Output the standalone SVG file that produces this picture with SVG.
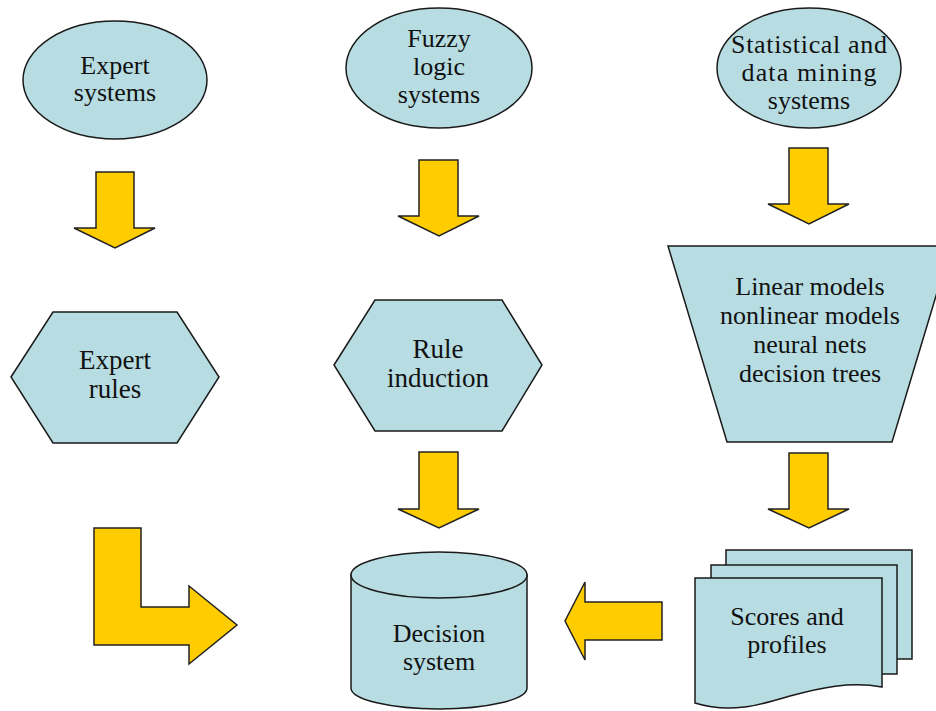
<svg xmlns="http://www.w3.org/2000/svg" width="936" height="711" viewBox="0 0 936 711">
<style>
.node{fill:#b7dde2;stroke:#1a1a1a;stroke-width:1.5}
.arr{fill:#ffcc00;stroke:#222;stroke-width:1.5;stroke-linejoin:miter}
text{font-family:"Liberation Serif","Times New Roman",serif;font-size:26px;fill:#111;text-anchor:middle}
.big{font-size:27px}
</style>
<rect width="936" height="711" fill="#fff"/>
<g id="expert-systems">
<ellipse class="node" cx="115" cy="80" rx="92" ry="59"/>
<text x="115" y="74">Expert</text>
<text x="115" y="101">systems</text>
</g>
<g id="fuzzy-logic">
<ellipse class="node" cx="439" cy="68" rx="93" ry="60"/>
<text x="439" y="47">Fuzzy</text>
<text x="439" y="75">logic</text>
<text x="439" y="103">systems</text>
</g>
<g id="statistical">
<ellipse class="node" cx="809" cy="68" rx="92" ry="60"/>
<text x="809" y="53" textLength="156" lengthAdjust="spacing">Statistical and</text>
<text x="809" y="81" textLength="135" lengthAdjust="spacing">data mining</text>
<text x="809" y="109">systems</text>
</g>
<g id="expert-rules">
<polygon class="node" points="11,377 53,312 177,312 219,377 177,443 53,443"/>
<text class="big" x="115" y="369">Expert</text>
<text class="big" x="115" y="398">rules</text>
</g>
<g id="rule-induction">
<polygon class="node" points="334,365 375,300 502,300 542,365 502,431 375,431"/>
<text class="big" x="438" y="358">Rule</text>
<text class="big" x="438" y="387">induction</text>
</g>
<g id="models">
<polygon class="node" points="668,246 951,246 892,442 727,442"/>
<text x="810" y="295">Linear models</text>
<text x="810" y="324">nonlinear models</text>
<text x="810" y="353">neural nets</text>
<text x="810" y="382">decision trees</text>
</g>
<g id="decision-system">
<path class="node" d="M351,575 V688 A88,21 0 0 0 527,688 V575 Z"/>
<ellipse class="node" cx="439" cy="575" rx="88" ry="23"/>
<text x="439" y="642">Decision</text>
<text x="439" y="670">system</text>
</g>
<g id="scores-profiles">
<rect class="node" x="726" y="550" width="186" height="109"/>
<rect class="node" x="711" y="565" width="186" height="109"/>
<path class="node" d="M695,578 H882 V687 C850,681 820,688 790,696 C760,705 730,714 695,703 Z"/>
<text x="787" y="625">Scores and</text>
<text x="787" y="653">profiles</text>
</g>
<g id="connectors">
<path class="arr" d="M96,172 H134 V228 H155 L115,248 L74,228 H96 Z"/>
<path class="arr" d="M419,160 H458 V216 H479 L439,236 L398,216 H419 Z"/>
<path class="arr" d="M789,148 H828 V204 H849 L809,224 L768,204 H789 Z"/>
<path class="arr" d="M419,452 H458 V509 H479 L439,528 L398,509 H419 Z"/>
<path class="arr" d="M789,453 H828 V509 H849 L809,528 L768,509 H789 Z"/>
<path class="arr" d="M662,602 V640 H585 V660 L565,621 L585,582 V602 Z"/>
<path class="arr" d="M94,528 H141 V607 H189 V586 L237,625 L189,664 V645 H94 Z"/>
</g>
</svg>
